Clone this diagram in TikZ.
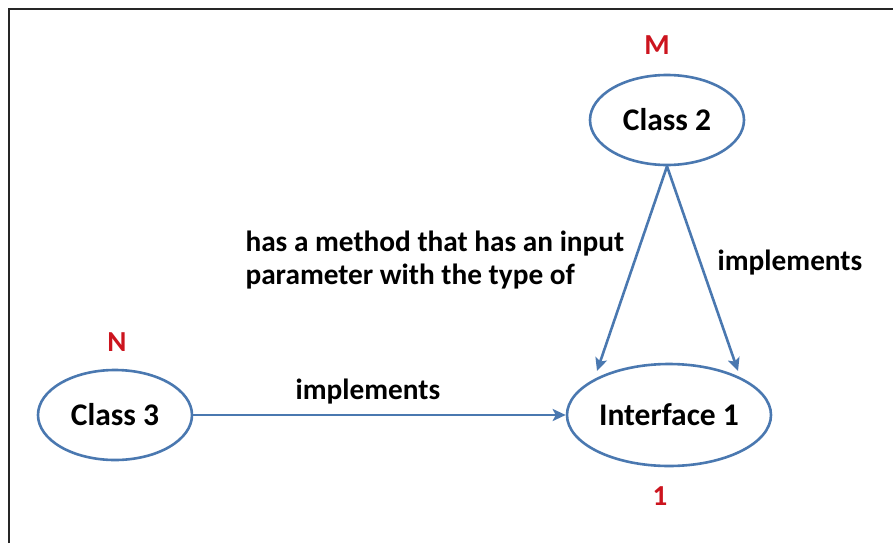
\documentclass[tikz,border=0pt]{standalone}
\usepackage{fontspec}
\setmainfont{Carlito}
\usetikzlibrary{arrows.meta,shapes.geometric}
\definecolor{obord}{RGB}{74,120,176}
\definecolor{ored}{RGB}{204,20,30}
\tikzset{
  cls/.style={ellipse, draw=obord, line width=2.6pt, fill=white, inner sep=0pt, font=\bfseries\fontsize{31.5}{36}\selectfont},
  mult/.style={text=ored, font=\bfseries\fontsize{29}{34}\selectfont},
  lbl/.style={font=\bfseries\fontsize{29.3}{33}\selectfont, align=left},
  conn/.style={draw=obord, line width=2.6pt, -{Stealth[length=13pt,width=12pt,inset=3pt]}}
}
\begin{document}
\begin{tikzpicture}[x=1pt,y=-1pt]
\useasboundingbox (0,0) rectangle (893,543);
\draw[line width=2pt, draw=black!85] (9,543) -- (9,9) -- (893,9);
\node[cls, minimum width=154pt, minimum height=90pt] (c2) at (667,120) {Class 2};
\node[cls, minimum width=154pt, minimum height=90pt] (c3) at (115,415) {Class 3};
\node[cls, minimum width=204pt, minimum height=102pt] (i1) at (669,415) {Interface 1};
\node[mult] (m) at (657,45) {M};
\node[mult] (n) at (117,342) {N};
\node[mult] (one) at (660,496) {1};
\coordinate (t1) at (597,371);
\coordinate (t2) at (738,371);
\draw[conn] (c2.south) -- (t1);
\draw[conn] (c2.south) -- (t2);
\draw[conn] (c3.east) -- (i1.west);
\node[lbl] (l1) at (368,392) {implements};
\node[lbl] (l2) at (790,263) {implements};
\node[lbl, anchor=west] (l3) at (242,260) {has a method that has an input\\parameter with the type of};
\end{tikzpicture}
\end{document}
